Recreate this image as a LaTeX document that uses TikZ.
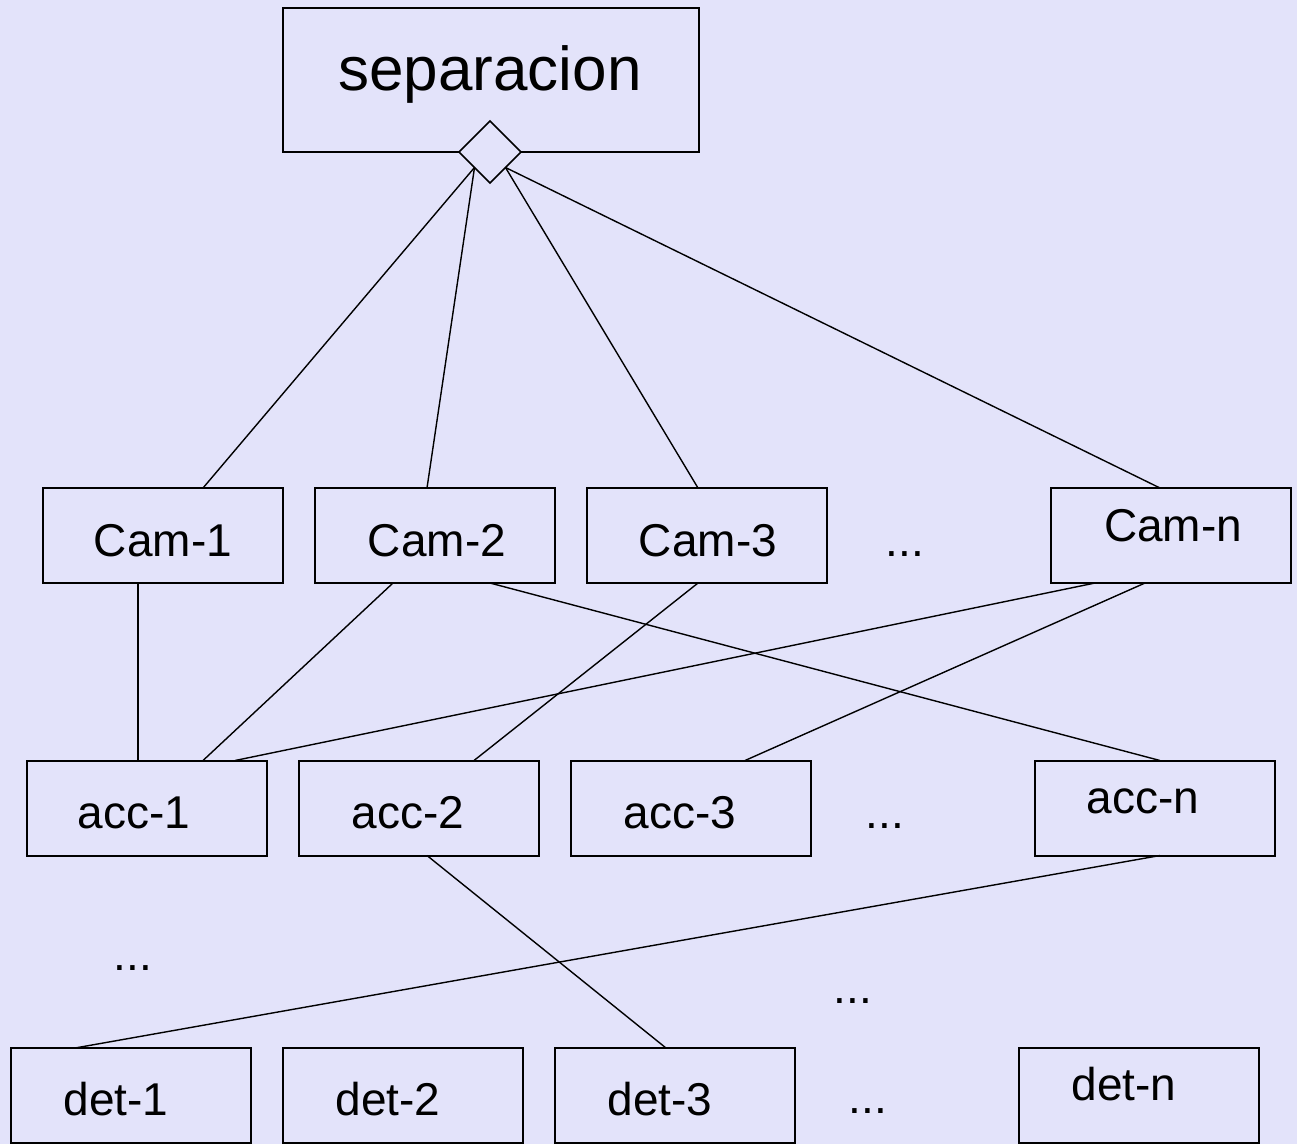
\documentclass[tikz,border=0pt]{standalone}
\usepackage{fontspec}
\setmainfont{Liberation Sans}
\usetikzlibrary{shapes.geometric}
\definecolor{bgcol}{RGB}{227,227,250}
\begin{document}
\begin{tikzpicture}[x=1pt,y=-1pt,
  box/.style={draw, line width=2pt, minimum width=240pt, minimum height=95pt, inner sep=0pt, outer sep=0pt},
  bigbox/.style={draw, line width=2pt, minimum width=416pt, minimum height=144pt, inner sep=0pt, outer sep=0pt},
  lbl/.style={anchor=base, inner sep=0pt, font=\fontsize{46}{50}\selectfont},
  biglbl/.style={anchor=base, inner sep=0pt, font=\fontsize{62}{66}\selectfont},
  conn/.style={line width=1.4pt},
  thickconn/.style={line width=2.2pt}]
\fill[bgcol] (0,0) rectangle (1297,1144);
\useasboundingbox (0,0) rectangle (1297,1144);
% top box
\node[bigbox] (sep) at (491,80) {};
\node[biglbl] (septxt) at (490,90) {separacion};
\node[draw, fill=bgcol, shape=diamond, line width=1.5pt, minimum width=62pt, minimum height=62pt, inner sep=0pt, outer sep=0pt] (dia) at (490,152) {};
% Cam row
\node[box] (c1) at (163,535.5) {};
\node[box] (c2) at (435,535.5) {};
\node[box] (c3) at (707,535.5) {};
\node[box] (cn) at (1171,535.5) {};
\node[lbl] (c1t) at (163,556) {Cam-1};
\node[lbl] (c2t) at (437,556) {Cam-2};
\node[lbl] (c3t) at (708,556) {Cam-3};
\node[lbl] (cnt) at (1173,541) {Cam-n};
\node[lbl] (cdots) at (905,556) {...};
% acc row
\node[box] (a1) at (147,808) {};
\node[box] (a2) at (419,808) {};
\node[box] (a3) at (691,808) {};
\node[box] (an) at (1155,808) {};
\node[lbl] (a1t) at (134,828) {acc-1};
\node[lbl] (a2t) at (408,828) {acc-2};
\node[lbl] (a3t) at (680,828) {acc-3};
\node[lbl] (ant) at (1143,813) {acc-n};
\node[lbl] (adots) at (885,828) {...};
% middle dots
\node[lbl] (ldots) at (133,970) {...};
\node[lbl] (mdots) at (853,1003) {...};
% det row
\node[box] (d1) at (131,1095.5) {};
\node[box] (d2) at (403,1095.5) {};
\node[box] (d3) at (675,1095.5) {};
\node[box] (dn) at (1139,1095.5) {};
\node[lbl] (d1t) at (116,1115) {det-1};
\node[lbl] (d2t) at (388,1115) {det-2};
\node[lbl] (d3t) at (660,1115) {det-3};
\node[lbl] (dnt) at (1124,1100) {det-n};
\node[lbl] (ddots) at (868,1113) {...};
% connectors from diamond
\draw[conn] (dia.south west) -- ([xshift=40pt]c1.north);
\draw[conn] (dia.south west) -- ([xshift=-8pt]c2.north);
\draw[conn] (dia.south east) -- ([xshift=-9pt]c3.north);
\draw[conn] (dia.south east) -- ([xshift=-11pt]cn.north);
% Cam -> acc
\draw[thickconn] ([xshift=-25pt]c1.south) -- ([xshift=-9pt]a1.north);
\draw[conn] ([xshift=-42pt]c2.south) -- ([xshift=56pt]a1.north);
\draw[conn] ([xshift=55pt]c2.south) -- ([xshift=5pt]an.north);
\draw[conn] ([xshift=-9pt]c3.south) -- ([xshift=55pt]a2.north);
\draw[conn] ([xshift=-76pt]cn.south) -- ([xshift=88pt]a1.north);
\draw[conn] ([xshift=-26pt]cn.south) -- ([xshift=54pt]a3.north);
% acc -> det
\draw[conn] ([xshift=8pt]a2.south) -- ([xshift=-9pt]d3.north);
\draw[conn] ([xshift=5pt]an.south) -- ([xshift=-56pt]d1.north);
\end{tikzpicture}
\end{document}
